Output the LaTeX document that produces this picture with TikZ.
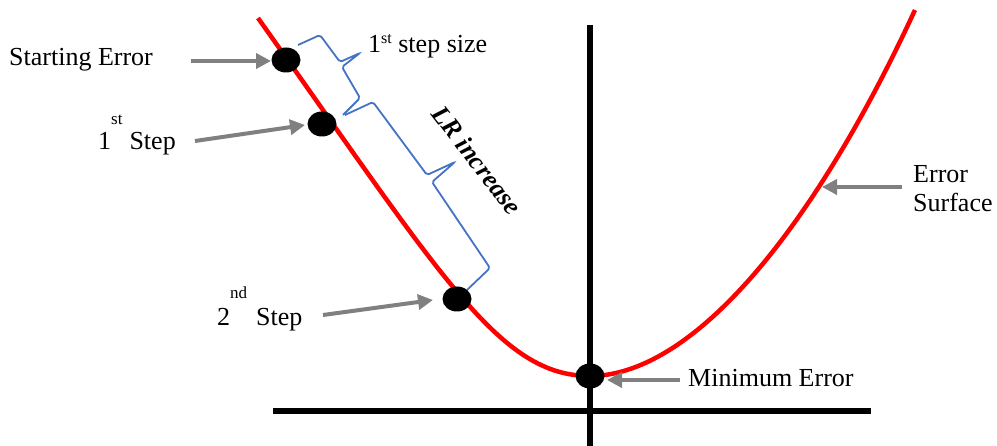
\documentclass[tikz,border=0pt]{standalone}
\usepackage{fontspec}
\setmainfont{Liberation Serif}
\usetikzlibrary{arrows.meta,shapes.geometric}
\definecolor{bracec}{RGB}{68,114,196}
\definecolor{arrowc}{RGB}{128,128,128}
\tikzset{
  lbl/.style={font=\fontsize{26}{30}\selectfont, inner sep=0pt, anchor=base west},
  dot/.style={ellipse, fill=black, minimum width=29pt, minimum height=25pt, inner sep=0pt},
  ptr/.style={draw=arrowc, line width=4pt, -{Triangle[length=15pt,width=15pt]}, shorten >=0pt},
  bracel/.style={draw=bracec, line width=1.8pt, rounded corners=2pt},
  axis/.style={draw=black, line width=6.5pt},
  curve/.style={draw=red, line width=4.5pt}
}
\begin{document}
\begin{tikzpicture}[x=1pt,y=-1pt]
\useasboundingbox (0,0) rectangle (997,446);
% axes
\draw[axis] (590,25) -- (590,446);
\draw[axis] (273,411) -- (871,411);
% error curve
\draw[curve] (258,18) .. controls (444,280) and (500,376) .. (590,376)
  .. controls (690,376) and (810,237) .. (915,10);
% braces
\draw[bracel] (298,45) -- (320,35) -- (340,62) -- (360,53) -- (342,67) -- (360,98) -- (343,115);
\draw[bracel] (345,115) -- (373,102) -- (427,175) -- (455,162) -- (432,182) -- (490,268) -- (467,290);
% dots
\node[dot] (d0) at (286,60) {};
\node[dot] (d1) at (322,124) {};
\node[dot] (d2) at (457,299) {};
\node[dot] (dm) at (590,376) {};
% labels
\node[lbl] (start) at (9,66) {Starting Error};
\node[lbl] (s1) at (98,150) {1\raisebox{25pt}{\fontsize{17}{17}\selectfont st}\hspace{7pt}Step};
\node[lbl] (s2) at (217,326) {2\raisebox{27pt}{\fontsize{17}{17}\selectfont nd}\hspace{9pt}Step};
\node[lbl] (size) at (368,53) {1\raisebox{9pt}{\fontsize{16}{16}\selectfont st} step size};
\node[font=\fontsize{26}{30}\selectfont\bfseries\itshape, rotate=-52.5, inner sep=0pt] (lr) at (477,160) {LR increase};
\node[lbl] (minerr) at (688,387) {Minimum Error};
\node[lbl] (es1) at (913,183) {Error};
\node[lbl] (es2) at (913,212) {Surface};
% pointer arrows
\coordinate (a0) at (191,61);
\coordinate (a0t) at (271,61);
\coordinate (a1) at (195,141);
\coordinate (a1t) at (305,125);
\coordinate (a2) at (323,315);
\coordinate (a2t) at (433,300);
\coordinate (am) at (680,380);
\coordinate (amt) at (607,380);
\coordinate (ae) at (902,187);
\coordinate (aet) at (822,187);
\draw[ptr] (a0) -- (a0t);
\draw[ptr] (a1) -- (a1t);
\draw[ptr] (a2) -- (a2t);
\draw[ptr] (am) -- (amt);
\draw[ptr] (ae) -- (aet);
\end{tikzpicture}
\end{document}
